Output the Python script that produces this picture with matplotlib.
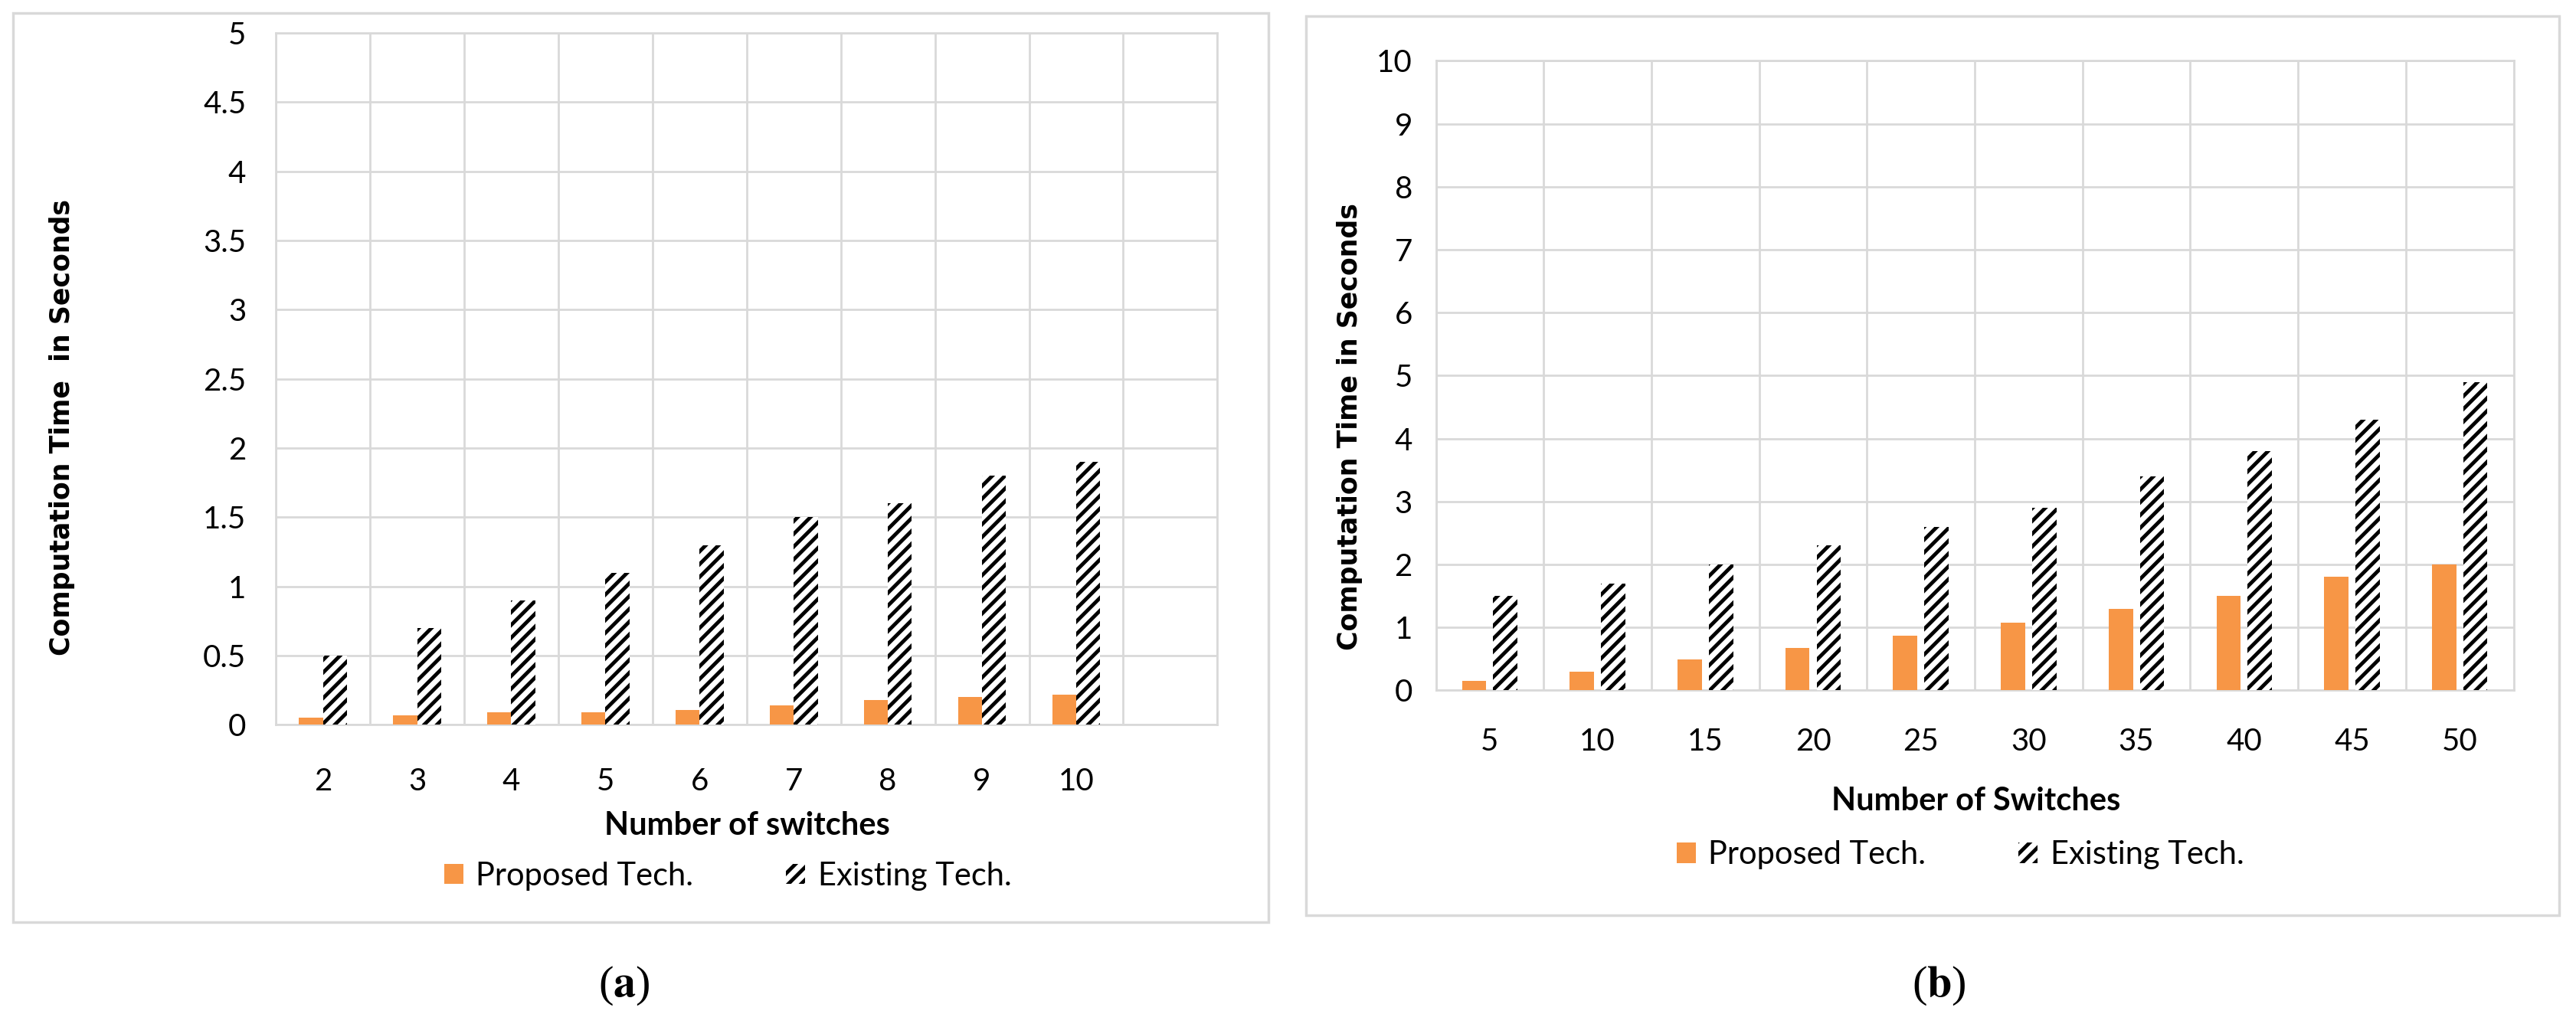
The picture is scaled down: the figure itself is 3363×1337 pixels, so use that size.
import matplotlib
matplotlib.use('Agg')
import matplotlib.pyplot as plt
from matplotlib.patches import Rectangle
import numpy as np

plt.rcParams['font.family'] = ['Liberation Sans Narrow', 'Lato', 'DejaVu Sans']
plt.rcParams['hatch.linewidth'] = 3.5
plt.rcParams['mathtext.fontset'] = 'stix'

# (a) small networks
switches_a = ['2', '3', '4', '5', '6', '7', '8', '9', '10']
proposed_a = [0.05, 0.07, 0.09, 0.09, 0.11, 0.14, 0.18, 0.20, 0.22]
existing_a = [0.5, 0.7, 0.9, 1.1, 1.3, 1.5, 1.6, 1.8, 1.9]
yticks_a = [0, 0.5, 1, 1.5, 2, 2.5, 3, 3.5, 4, 4.5, 5]

# (b) larger networks
switches_b = ['5', '10', '15', '20', '25', '30', '35', '40', '45', '50']
proposed_b = [0.15, 0.30, 0.49, 0.68, 0.87, 1.07, 1.30, 1.50, 1.80, 2.00]
existing_b = [1.5, 1.7, 2.0, 2.3, 2.6, 2.9, 3.4, 3.8, 4.3, 4.9]
yticks_b = [0, 1, 2, 3, 4, 5, 6, 7, 8, 9, 10]

ORANGE = '#F79646'
GRID = '#d9d9d9'

fig = plt.figure(figsize=(33.63, 13.37), dpi=100)


def panel(ax, labels, prop, exist, yticks, ncols, width, gap, xpad, ypad):
    x = np.arange(len(labels))
    off = width / 2 + gap / 2
    b1 = ax.bar(x - off, prop, width, color=ORANGE, zorder=3, label='Proposed Tech.')
    b2 = ax.bar(x + off, exist, width, color='white', edgecolor='black', hatch='//',
                linewidth=0, zorder=3, label='Existing Tech.')
    ax.set_xlim(-0.5, ncols - 0.5)
    ax.set_ylim(yticks[0], yticks[-1])
    ax.set_xticks(x)
    ax.set_xticklabels(labels)
    ax.set_xticks(np.arange(ncols + 1) - 0.5, minor=True)
    ax.set_yticks(yticks)
    ax.set_yticklabels(['%g' % t for t in yticks])
    ax.grid(axis='y', which='major', color=GRID, lw=2, zorder=0)
    ax.grid(axis='x', which='minor', color=GRID, lw=2, zorder=0)
    ax.grid(axis='x', which='major', visible=False)
    ax.set_axisbelow(True)
    ax.tick_params(which='both', length=0, labelsize=29)
    ax.tick_params(axis='x', pad=xpad)
    ax.tick_params(axis='y', pad=ypad)
    for s in ax.spines.values():
        s.set_color(GRID)
        s.set_linewidth(2)
    return b1, b2


ax1 = fig.add_axes([0.1071, 0.2921, 0.3655, 0.6758])
h1 = panel(ax1, switches_a, proposed_a, existing_a, yticks_a, 10, 0.255, 0.0, 40, 28)
ax2 = fig.add_axes([0.5574, 0.3258, 0.4184, 0.6148])
h2 = panel(ax2, switches_b, proposed_b, existing_b, yticks_b, 10, 0.225, 0.065, 35, 22)

# outer frames
fig.patches.append(Rectangle((0.0051, 0.0995), 0.4872, 0.8875, transform=fig.transFigure,
                             fill=False, edgecolor=GRID, lw=2.5))
fig.patches.append(Rectangle((0.507, 0.106), 0.4866, 0.878, transform=fig.transFigure,
                             fill=False, edgecolor=GRID, lw=2.5))

# axis titles
fig.text(0.024, 0.583, 'Computation Time  in Seconds', rotation=90, ha='center', va='center',
         family='DejaVu Sans', weight='bold', fontsize=25)
fig.text(0.524, 0.583, 'Computation Time in Seconds', rotation=90, ha='center', va='center',
         family='DejaVu Sans', weight='bold', fontsize=25)
fig.text(0.290, 0.194, 'Number of switches', ha='center', va='center', weight='bold', fontsize=30)
fig.text(0.767, 0.218, 'Number of Switches', ha='center', va='center', weight='bold', fontsize=30)

for ax, h, pos in [(ax1, h1, (0.2825, 0.1445)), (ax2, h2, (0.761, 0.165))]:
    ax.legend(handles=list(h), loc='center', bbox_to_anchor=pos, bbox_transform=fig.transFigure,
              ncol=2, frameon=False, fontsize=30, handlelength=0.6, handleheight=0.6,
              handletextpad=0.4, columnspacing=2.9)

# panel captions
fig.text(0.2423, 0.037, r'($\mathbf{a}$)', ha='center', va='center', family='Liberation Serif', fontsize=42)
fig.text(0.7526, 0.037, r'($\mathbf{b}$)', ha='center', va='center', family='Liberation Serif', fontsize=42)

fig.savefig('out.png', dpi=100)
